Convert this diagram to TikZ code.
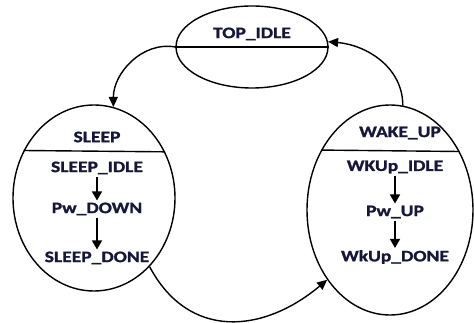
\documentclass[tikz,border=0pt]{standalone}
\usepackage{fontspec}
\setmainfont{Carlito}[FakeStretch=1.22,BoldFeatures={FakeBold=1.3}]
\usetikzlibrary{shapes.geometric,arrows.meta}
\definecolor{ink}{HTML}{16163A}
\begin{document}
\begin{tikzpicture}[x=1pt,y=-1pt,
  st/.style={draw,line width=1.4pt,ellipse,inner sep=0pt},
  lbl/.style={font=\bfseries\fontsize{16}{16}\selectfont,text=ink,inner sep=1pt},
  conn/.style={line width=1.4pt,-{Triangle[length=10pt,width=9pt]}},
  inner/.style={line width=1.6pt,-{Triangle[length=9pt,width=10pt]},shorten <=1pt,shorten >=1pt}]
\useasboundingbox (0,0) rectangle (474,323);
% states
\node[st,minimum width=152pt,minimum height=82pt] (top) at (252,47) {};
\node[st,minimum width=162pt,minimum height=186pt] (sleep) at (94,198) {};
\node[st,minimum width=166pt,minimum height=210pt] (wake) at (390,210) {};
% dividers
\draw[line width=1.4pt] (top.west) -- (top.east);
\draw[line width=1.4pt] (sleep.146.1) -- (sleep.33.9);
\draw[line width=1.4pt] (wake.139.35) -- (wake.40.65);
% labels
\node[lbl] (ttop) at (252,34) {TOP\_IDLE};
\node[lbl] (tsleep) at (97,137) {SLEEP};
\node[lbl] (s1) at (97,168) {SLEEP\_IDLE};
\node[lbl] (s2) at (97,209) {Pw\_DOWN};
\node[lbl] (s3) at (97,258) {SLEEP\_DONE};
\node[lbl] (twake) at (400,133) {WAKE\_UP};
\node[lbl] (w1) at (395,167) {WKUp\_IDLE};
\node[lbl] (w2) at (395,212) {Pw\_UP};
\node[lbl] (w3) at (395,257) {WkUp\_DONE};
% inner arrows
\draw[inner] (s1) -- (s2);
\draw[inner] (s2) -- (s3);
\draw[inner] (w1) -- (w2);
\draw[inner] (w2) -- (w3);
% connectors
\draw[conn] (top.west) to[out=170,in=90] (sleep.78);
\draw[conn] (wake.83) to[out=90,in=-5] (top.4);
\draw[conn] (sleep.-51) to[out=-62,in=220,looseness=1.2] (wake.-132);
\end{tikzpicture}
\end{document}
